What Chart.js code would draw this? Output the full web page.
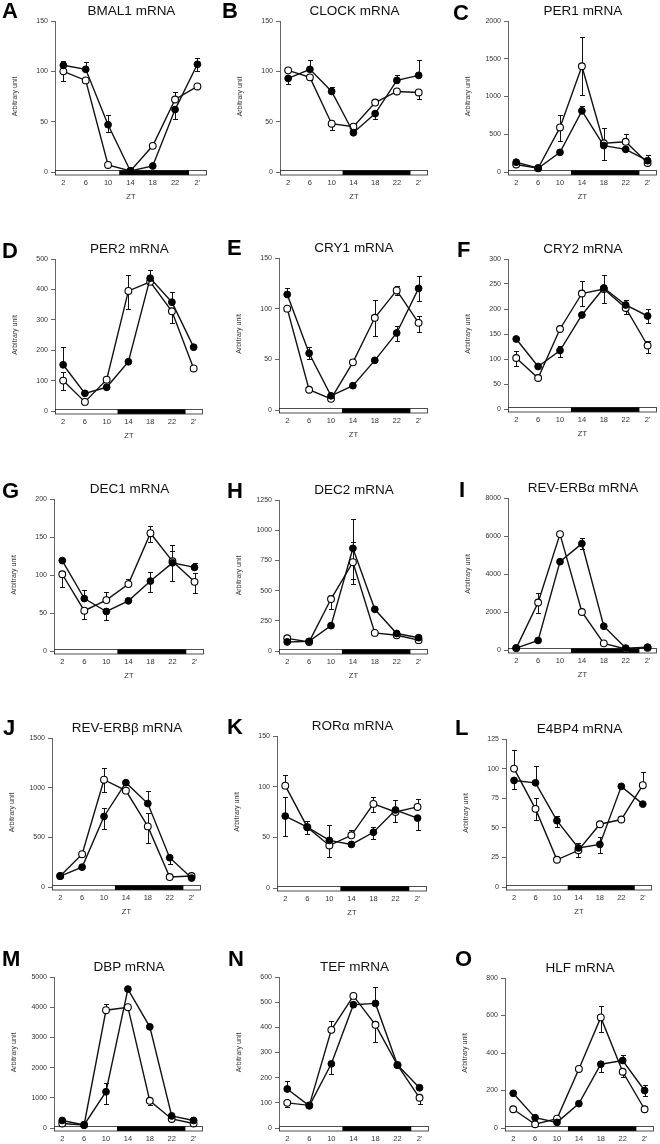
<!DOCTYPE html>
<html><head><meta charset="utf-8">
<script src="https://cdn.jsdelivr.net/npm/chart.js@4.4.0/dist/chart.umd.min.js"></script>
<style>
body{margin:0;width:660px;height:1144px;background:#fff;position:relative;overflow:hidden;font-family:'Liberation Sans',Arial,sans-serif}
canvas{position:absolute}
.lt{position:absolute;font-weight:bold;font-size:22px;line-height:22px;color:#000}
.tt{position:absolute;font-size:13.5px;line-height:14px;text-align:center;color:#111;white-space:nowrap}
</style></head><body>
<script>
// ---- data ----
const ztHours = [2, 6, 10, 14, 18, 22, 26];
const ztLabels = ['2', '6', '10', '14', '18', '22', "2'"];
const geneTitles = ['BMAL1 mRNA','CLOCK mRNA','PER1 mRNA','PER2 mRNA','CRY1 mRNA','CRY2 mRNA','DEC1 mRNA','DEC2 mRNA','REV-ERBα mRNA','REV-ERBβ mRNA','RORα mRNA','E4BP4 mRNA','DBP mRNA','TEF mRNA','HLF mRNA'];
const panelLetters = ['A','B','C','D','E','F','G','H','I','J','K','L','M','N','O'];
const yMaxes = [150, 150, 2000, 500, 150, 300, 200, 1250, 8000, 1500, 150, 125, 5000, 600, 800];
const ySteps = [50, 50, 500, 100, 50, 50, 50, 250, 2000, 500, 50, 25, 1000, 100, 200];

// open circles / filled circles; errors: +up, -down, or [down, up]
const bmal1Open = [100, 91, 7, 1, 26, 72, 85];
const bmal1Filled = [106, 102, 47, 1, 6, 62, 107];
const bmal1OpenErr = [-10, 0, 0, 0, 0, 7, 0];
const bmal1FilledErr = [4, 7, [-7, 10], 0, 0, -9, [-7, 6]];

const clockOpen = [101, 94, 48, 45, 69, 80, 79];
const clockFilled = [93, 102, 80, 39, 58, 91, 96];
const clockOpenErr = [0, -3, -6, 0, 0, 0, -6];
const clockFilledErr = [-6, 9, 4, 0, -5, 5, 15];

const per1Open = [100, 50, 590, 1400, 380, 400, 120];
const per1Filled = [130, 50, 260, 810, 350, 300, 150];
const per1OpenErr = [0, 0, [-180, 160], [-380, 390], 200, 100, 0];
const per1FilledErr = [0, 0, 0, 70, -190, 0, 70];

const per2Open = [100, 30, 103, 395, 425, 328, 140];
const per2Filled = [152, 58, 78, 162, 437, 358, 210];
const per2OpenErr = [[-30, 28], 0, 0, [-60, 52], 0, -38, 0];
const per2FilledErr = [58, 0, 0, 0, 28, 32, 0];

const cry1Open = [100, 20, 11, 47, 91, 118, 86];
const cry1Filled = [114, 56, 14, 24, 49, 76, 120];
const cry1OpenErr = [0, 0, 0, 0, [-18, 18], [-5, 4], [-9, 7]];
const cry1FilledErr = [6, [-6, 6], 0, 0, 0, [-8, 7], [-12, 12]];

const cry2Open = [102, 62, 160, 231, 240, 202, 127];
const cry2Filled = [140, 85, 117, 188, 242, 208, 186];
const cry2OpenErr = [[-16, 14], 0, 0, [-25, 25], 0, -12, [-15, 10]];
const cry2FilledErr = [0, 0, [-12, 8], 0, [-30, 27], 10, [-14, 14]];

const dec1Open = [101, 53, 67, 88, 155, 118, 91];
const dec1Filled = [119, 69, 52, 66, 92, 116, 110];
const dec1OpenErr = [-17, -11, 11, 7, [-12, 10], [-26, 21], [-15, 11]];
const dec1FilledErr = [0, 11, -11, 0, [-14, 12], 16, 6];

const dec2Open = [105, 75, 430, 735, 150, 130, 90];
const dec2Filled = [75, 80, 210, 850, 345, 145, 110];
const dec2OpenErr = [0, 0, -80, [-180, 165], 0, 0, 0];
const dec2FilledErr = [0, 0, 0, [-250, 245], 0, 0, 0];

const reverbaOpen = [100, 2500, 6100, 2000, 350, 50, 120];
const reverbaFilled = [100, 500, 4650, 5600, 1250, 100, 150];
const reverbaOpenErr = [0, [-550, 500], 0, 0, 0, 0, 0];
const reverbaFilledErr = [0, 0, 0, [-300, 300], 0, 0, 0];

const reverbbOpen = [110, 330, 1080, 970, 610, 100, 110];
const reverbbFilled = [110, 200, 710, 1050, 840, 295, 90];
const reverbbOpenErr = [0, 0, [-120, 120], 0, [-170, 130], 0, 0];
const reverbbFilledErr = [0, 0, [-130, 90], 0, 130, [-60, 30], 0];

const roraOpen = [101, 60, 42, 52, 83, 75, 80];
const roraFilled = [71, 60, 47, 43, 55, 77, 69];
const roraOpenErr = [11, 0, -11, 5, [-8, 7], 0, 8];
const roraFilledErr = [[-20, 19], [-7, 6], 15, 0, [-7, 5], [-12, 10], -12];

const e4bp4Open = [100, 66, 23, 31, 53, 57, 86];
const e4bp4Filled = [90, 88, 56, 33, 36, 85, 70];
const e4bp4OpenErr = [16, [-9, 9], 0, -6, 0, 0, 11];
const e4bp4FilledErr = [-7, 14, [-5, 4], 4, [-7, 6], 0, 0];

const dbpOpen = [150, 100, 3900, 4000, 900, 300, 150];
const dbpFilled = [250, 100, 1200, 4600, 3350, 400, 250];
const dbpOpenErr = [0, 0, 200, 0, -150, 0, 0];
const dbpFilledErr = [0, 0, [-400, 300], 0, 0, 0, 0];

const tefOpen = [100, 90, 390, 525, 410, 250, 120];
const tefFilled = [155, 88, 255, 490, 495, 250, 160];
const tefOpenErr = [-15, 0, 35, 0, -70, 0, -25];
const tefFilledErr = [30, 0, -40, 0, 65, 0, 0];

const hlfOpen = [100, 20, 50, 315, 590, 300, 100];
const hlfFilled = [185, 55, 30, 130, 340, 360, 200];
const hlfOpenErr = [0, 0, 0, 0, [-80, 60], -30, 0];
const hlfFilledErr = [0, 0, 0, 0, -40, 30, [-30, 30]];

const lightsOff = 12, lightsOn = 24.5;

const openSeries = [bmal1Open, clockOpen, per1Open, per2Open, cry1Open, cry2Open, dec1Open, dec2Open, reverbaOpen, reverbbOpen, roraOpen, e4bp4Open, dbpOpen, tefOpen, hlfOpen];
const filledSeries = [bmal1Filled, clockFilled, per1Filled, per2Filled, cry1Filled, cry2Filled, dec1Filled, dec2Filled, reverbaFilled, reverbbFilled, roraFilled, e4bp4Filled, dbpFilled, tefFilled, hlfFilled];
const openErrors = [bmal1OpenErr, clockOpenErr, per1OpenErr, per2OpenErr, cry1OpenErr, cry2OpenErr, dec1OpenErr, dec2OpenErr, reverbaOpenErr, reverbbOpenErr, roraOpenErr, e4bp4OpenErr, dbpOpenErr, tefOpenErr, hlfOpenErr];
const filledErrors = [bmal1FilledErr, clockFilledErr, per1FilledErr, per2FilledErr, cry1FilledErr, cry2FilledErr, dec1FilledErr, dec2FilledErr, reverbaFilledErr, reverbbFilledErr, roraFilledErr, e4bp4FilledErr, dbpFilledErr, tefFilledErr, hlfFilledErr];

// ---- layout (pixels) ----
const axisX = [55, 280, 508, 55, 279, 508, 54, 279, 508, 52, 277, 506, 54, 279, 505];
const rightX = [208, 429, 658, 204, 429, 658, 205, 429, 658, 202, 428, 653, 204, 430, 655];
const topY = [21, 21, 21, 259, 258, 259, 499, 500, 498, 738, 736, 739, 977, 977, 978];
const zeroY = [172, 172, 172, 411, 410, 409, 651, 651, 650, 887, 888, 887, 1128, 1128, 1128];
const letterX = [2, 222, 453, 2, 227, 457, 2, 227, 459, 3, 227, 455, 2, 228, 455];
const letterCapTop = [3, 3, 5, 243, 240, 242, 483, 483, 482, 720, 719, 720, 951, 951, 951];

const FONT = "'Liberation Sans', Arial, sans-serif";
const LEFT_W = 46, TOP_P = 8, BOTTOM_H = 32, RIGHT_P = 4;

const ldAndErrors = {
  id: 'ldAndErrors',
  beforeDatasetsDraw(chart, args, opts) {
    const ctx = chart.ctx, xs = chart.scales.x, ys = chart.scales.y, ca = chart.chartArea;
    const y0 = ys.getPixelForValue(0);
    ctx.save();
    // light/dark bar
    ctx.fillStyle = '#fff';
    ctx.fillRect(ca.left, y0 - 2, ca.right - ca.left, 5);
    ctx.fillStyle = '#000';
    const xa = xs.getPixelForValue(lightsOff), xb = xs.getPixelForValue(lightsOn);
    ctx.fillRect(xa, y0 - 2, xb - xa, 5);
    ctx.strokeStyle = '#222'; ctx.lineWidth = 0.8;
    ctx.strokeRect(ca.left + 0.5, y0 - 2 + 0.5, ca.right - ca.left - 1, 4.5);
    // error bars
    ctx.strokeStyle = '#111'; ctx.lineWidth = 1;
    opts.series.forEach((s) => {
      s.values.forEach((v, j) => {
        const e = s.errs[j];
        const list = Array.isArray(e) ? e : [e];
        list.forEach(d => {
          if (!d) return;
          const x = Math.round(xs.getPixelForValue(ztHours[j])) + 0.5;
          const ya = ys.getPixelForValue(v), yb = Math.round(ys.getPixelForValue(v + d)) + 0.5;
          ctx.beginPath();
          ctx.moveTo(x, ya); ctx.lineTo(x, yb);
          ctx.moveTo(x - 2.5, yb); ctx.lineTo(x + 2.5, yb);
          ctx.stroke();
        });
      });
    });
    ctx.restore();
  }
};

function addText(cls, txt, left, top, width) {
  const d = document.createElement('div');
  d.className = cls; d.textContent = txt;
  d.style.left = left + 'px'; d.style.top = top + 'px';
  if (width) d.style.width = width + 'px';
  document.body.appendChild(d);
}

for (let i = 0; i < 15; i++) {
  const W = rightX[i] - axisX[i] + LEFT_W + RIGHT_P;
  const H = zeroY[i] - topY[i] + TOP_P + BOTTOM_H;
  const cv = document.createElement('canvas');
  cv.width = W; cv.height = H;
  cv.style.left = (axisX[i] - LEFT_W) + 'px';
  cv.style.top = (topY[i] - TOP_P) + 'px';
  cv.style.width = W + 'px'; cv.style.height = H + 'px';
  document.body.appendChild(cv);

  addText('lt', panelLetters[i], letterX[i], letterCapTop[i] - 3);
  const cx = (axisX[i] + rightX[i]) / 2;
  addText('tt', geneTitles[i], cx - 80, topY[i] - 17, 160);

  const toPts = arr => ztHours.map((x, j) => ({ x, y: arr[j] }));
  new Chart(cv, {
    type: 'scatter',
    data: {
      datasets: [
        { data: toPts(filledSeries[i]), showLine: true, borderColor: '#111', borderWidth: 1.4,
          pointRadius: 3.4, pointBackgroundColor: '#000', pointBorderColor: '#000', pointBorderWidth: 1, clip: false },
        { data: toPts(openSeries[i]), showLine: true, borderColor: '#111', borderWidth: 1.4,
          pointRadius: 3.4, pointBackgroundColor: '#fff', pointBorderColor: '#000', pointBorderWidth: 1.1, clip: false }
      ]
    },
    options: {
      responsive: false, maintainAspectRatio: false, devicePixelRatio: 1, animation: false,
      layout: { padding: { top: TOP_P, right: RIGHT_P, left: 0, bottom: 0 } },
      plugins: {
        legend: { display: false }, tooltip: { enabled: false },
        ldAndErrors: { series: [
          { values: openSeries[i], errs: openErrors[i] },
          { values: filledSeries[i], errs: filledErrors[i] }
        ] }
      },
      scales: {
        x: {
          type: 'linear', min: 0.5, max: 27.7,
          afterBuildTicks: s => { s.ticks = ztHours.map(v => ({ value: v })); },
          afterFit: s => { s.height = BOTTOM_H; },
          ticks: { autoSkip: false, maxRotation: 0, padding: 6, color: '#333',
                   font: { family: FONT, size: 7.5 },
                   callback: (v, idx) => ztLabels[idx] },
          grid: { display: false, drawTicks: false },
          border: { display: false },
          title: { display: true, text: 'ZT', color: '#333', font: { family: FONT, size: 7.5 },
                   padding: { top: 0, bottom: 3 } }
        },
        y: {
          min: 0, max: yMaxes[i],
          afterFit: s => { s.width = LEFT_W; },
          ticks: { stepSize: ySteps[i], padding: 3, color: '#333', font: { family: FONT, size: 7 },
                   callback: v => String(v) },
          grid: { drawOnChartArea: false, tickLength: 4, color: '#666' },
          border: { display: true, color: '#666', width: 1 },
          title: { display: true, text: 'Arbitrary unit', color: '#333', font: { family: FONT, size: 7 },
                   padding: { top: 2, bottom: 0 } }
        }
      }
    },
    plugins: [ldAndErrors]
  });
}
</script>
</body></html>
